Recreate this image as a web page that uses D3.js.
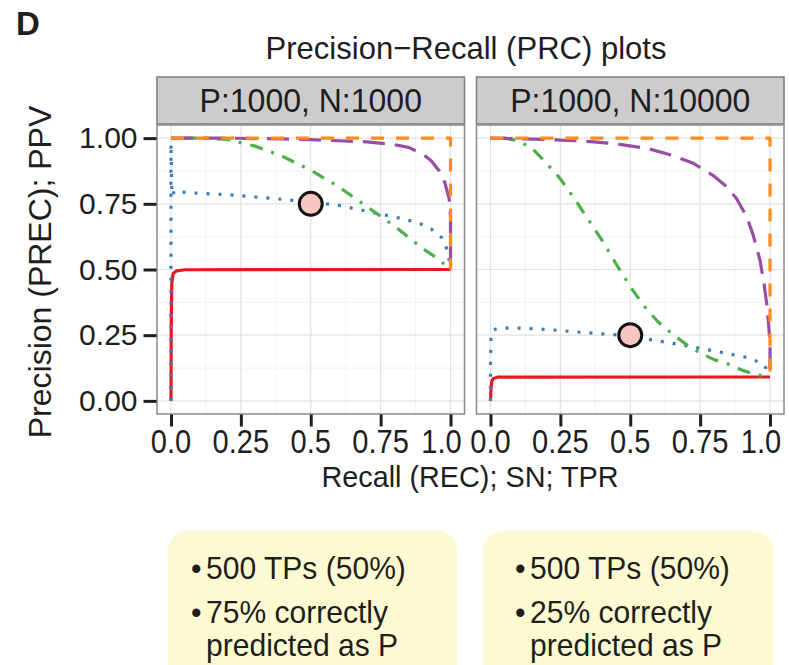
<!DOCTYPE html>
<html>
<head>
<meta charset="utf-8">
<script src="https://cdn.jsdelivr.net/npm/d3@7"></script>
<style>
  html, body { margin: 0; padding: 0; background: #fff; }
  svg { display: block; }
  text { font-family: "Liberation Sans", Arial, Helvetica, sans-serif; fill: #1e1e1e; }
</style>
</head>
<body>
<svg id="chart" width="789" height="665"></svg>
<script>
// ---- data -------------------------------------------------------------
const panelLabels = ["P:1000, N:1000", "P:1000, N:10000"];
const xTicks = [0, 0.25, 0.5, 0.75, 1];
const xTickLabels = ["0.0", "0.25", "0.5", "0.75", "1.0"];
const yTicks = [0, 0.25, 0.5, 0.75, 1];
const yTickLabels = ["0.00", "0.25", "0.50", "0.75", "1.00"];

// [recall, precision] pairs, balanced panel (P:1000, N:1000)
const random1 = [[0,0],[0.001,0.30],[0.003,0.45],[0.008,0.485],[0.02,0.495],[0.05,0.499],[1,0.5]];
const poor1 = [[0,0],[0,0.98],[0.003,0.80],[0.006,0.78],[0.012,0.80],[0.03,0.795],[0.1,0.79],[0.2,0.785],[0.3,0.776],[0.4,0.767],[0.5,0.757],[0.6,0.744],[0.7,0.722],[0.8,0.70],[0.88,0.68],[0.93,0.655],[0.97,0.62],[0.99,0.57],[1,0.5]];
const good1 = [[0,1],[0.1,1],[0.2,0.995],[0.3,0.97],[0.4,0.93],[0.5,0.878],[0.6,0.815],[0.7,0.74],[0.8,0.665],[0.9,0.58],[0.95,0.545],[1,0.5]];
const excellent1 = [[0,1],[0.2,1],[0.4,0.997],[0.5,0.994],[0.6,0.99],[0.7,0.986],[0.8,0.975],[0.85,0.965],[0.9,0.94],[0.93,0.915],[0.96,0.875],[0.98,0.83],[0.995,0.77],[1,0.70],[1,0.5]];
const perfect1 = [[0,1],[1,1],[1,0.5]];

// [recall, precision] pairs, imbalanced panel (P:1000, N:10000)
const random2 = [[0,0],[0.002,0.05],[0.005,0.075],[0.01,0.085],[0.025,0.09],[1,0.0909]];
const poor2 = [[0,0],[0,0.13],[0.002,0.25],[0.01,0.27],[0.03,0.277],[0.1,0.277],[0.2,0.272],[0.3,0.263],[0.4,0.255],[0.5,0.247],[0.6,0.228],[0.7,0.21],[0.78,0.194],[0.85,0.18],[0.93,0.162],[0.98,0.137],[1,0.0909]];
const good2 = [[0,1],[0.05,1],[0.1,0.99],[0.15,0.96],[0.2,0.905],[0.25,0.845],[0.3,0.77],[0.35,0.69],[0.4,0.61],[0.45,0.52],[0.5,0.435],[0.55,0.36],[0.6,0.30],[0.65,0.255],[0.7,0.215],[0.75,0.182],[0.8,0.157],[0.85,0.14],[0.9,0.117],[0.95,0.1],[1,0.0909]];
const excellent2 = [[0,1],[0.1,0.998],[0.2,0.995],[0.3,0.99],[0.37,0.986],[0.45,0.978],[0.56,0.961],[0.65,0.935],[0.726,0.904],[0.8,0.855],[0.845,0.815],[0.88,0.77],[0.917,0.70],[0.94,0.63],[0.964,0.536],[0.978,0.45],[0.988,0.371],[0.995,0.29],[1,0.22],[1,0.0909]];
const perfect2 = [[0,1],[1,1],[1,0.0909]];

// highlighted operating point per panel
const pointRecall = [0.5, 0.5];
const pointPrecision = [0.75, 0.25];

// notes under each panel
const notes1 = ["500 TPs (50%)", "75% correctly", "predicted as P"];
const notes2 = ["500 TPs (50%)", "25% correctly", "predicted as P"];

// ---- styling ----------------------------------------------------------
const curveStyles = [
  { key: "random",    color: "#e41a1c", dash: null },
  { key: "poor",      color: "#377eb8", dash: "3,9" },
  { key: "good",      color: "#4daf4a", dash: "3,9,13,9" },
  { key: "excellent", color: "#984ea3", dash: "22,10" },
  { key: "perfect",   color: "#ff8c1a", dash: "13,12" }
];
const panelCurves = [
  { random: random1, poor: poor1, good: good1, excellent: excellent1, perfect: perfect1 },
  { random: random2, poor: poor2, good: good2, excellent: excellent2, perfect: perfect2 }
];
const panelNotes = [notes1, notes2];

const svg = d3.select("#chart");
const panelLefts = [157, 476.5];
const panelW = 307.5;
const panelTop = 125, panelBottom = 414;
const stripTop = 77, stripBottom = 124;

const y = d3.scaleLinear().domain([-0.05, 1.05]).range([panelBottom, panelTop]);

// text placed at (x, y), squeezed horizontally by sx (narrow Helvetica look)
function label(parent, x, yPos, str, size, sx, anchor) {
  return parent.append("text")
    .attr("transform", `translate(${x},${yPos}) scale(${sx},1)`)
    .attr("text-anchor", anchor || "start")
    .style("font-size", size + "px")
    .text(str);
}

// panel letter and title
svg.append("text").attr("x", 16).attr("y", 35)
  .style("font-size", "33px").style("font-weight", "bold").text("D");
label(svg, 466, 59, "Precision\u2212Recall (PRC) plots", 32, 0.97, "middle");

panelLabels.forEach((lab, i) => {
  const left = panelLefts[i];
  const x = d3.scaleLinear().domain([-0.05, 1.05]).range([left, left + panelW]);
  const g = svg.append("g");

  // strip
  g.append("rect").attr("x", left).attr("y", stripTop)
    .attr("width", panelW).attr("height", stripBottom - stripTop)
    .attr("fill", "#cccccc").attr("stroke", "#7c7c7c").attr("stroke-width", 1.5);
  label(g, left + panelW / 2, 112, lab, 33, 0.97, "middle");

  // panel background and grid
  g.append("rect").attr("x", left).attr("y", panelTop)
    .attr("width", panelW).attr("height", panelBottom - panelTop).attr("fill", "#fff");
  const minor = [0.125, 0.375, 0.625, 0.875];
  g.selectAll(".vminor").data(minor).enter().append("line")
    .attr("x1", d => x(d)).attr("x2", d => x(d)).attr("y1", panelTop).attr("y2", panelBottom)
    .attr("stroke", "#f2f2f2").attr("stroke-width", 1);
  g.selectAll(".hminor").data(minor).enter().append("line")
    .attr("y1", d => y(d)).attr("y2", d => y(d)).attr("x1", left).attr("x2", left + panelW)
    .attr("stroke", "#f2f2f2").attr("stroke-width", 1);
  g.selectAll(".vmajor").data(xTicks).enter().append("line")
    .attr("x1", d => x(d)).attr("x2", d => x(d)).attr("y1", panelTop).attr("y2", panelBottom)
    .attr("stroke", "#e2e2e2").attr("stroke-width", 1.2);
  g.selectAll(".hmajor").data(yTicks).enter().append("line")
    .attr("y1", d => y(d)).attr("y2", d => y(d)).attr("x1", left).attr("x2", left + panelW)
    .attr("stroke", "#e2e2e2").attr("stroke-width", 1.2);

  // curves
  const line = d3.line().x(d => x(d[0])).y(d => y(d[1]));
  curveStyles.forEach(s => {
    g.append("path").datum(panelCurves[i][s.key])
      .attr("d", line).attr("fill", "none")
      .attr("stroke", s.color).attr("stroke-width", 3.2)
      .attr("stroke-dasharray", s.dash)
      .attr("stroke-linejoin", "round");
  });

  // operating point
  g.append("circle").attr("cx", x(pointRecall[i])).attr("cy", y(pointPrecision[i])).attr("r", 11.5)
    .attr("fill", "#f7c6c0").attr("stroke", "#111").attr("stroke-width", 3);

  // panel border
  g.append("rect").attr("x", left).attr("y", panelTop)
    .attr("width", panelW).attr("height", panelBottom - panelTop)
    .attr("fill", "none").attr("stroke", "#8a8a8a").attr("stroke-width", 1.5);

  // x axis: ticks from d3, labels drawn narrow so neighbouring panels do not collide
  const xAxis = d3.axisBottom(x).tickValues(xTicks).tickFormat("").tickSize(12);
  const ax = g.append("g").attr("transform", `translate(0,${panelBottom + 0.5})`).call(xAxis);
  ax.select(".domain").remove();
  ax.selectAll(".tick line").attr("stroke", "#1e1e1e").attr("stroke-width", 3);
  ax.selectAll(".tick text").remove();
  xTicks.forEach((t, k) => {
    const nudge = k === xTicks.length - 1 ? -9 : 0;
    label(g, x(t) + nudge, 453, xTickLabels[k], 33, 0.88, "middle");
  });

  // notes box
  const bx = [168, 483][i], bw = [289, 290][i];
  g.append("rect").attr("x", bx).attr("y", 531).attr("width", bw).attr("height", 160)
    .attr("rx", 20).attr("ry", 20).attr("fill", "#fdfad2");
  const notes = panelNotes[i];
  const bulletX = bx + [23, 32][i], textX = bulletX + 15;
  [579, 623].forEach(by => label(g, bulletX, by, "\u2022", 31, 0.97, "start"));
  [579, 623, 656].forEach((by, k) => label(g, textX, by, notes[k], 31, 0.97, "start"));
});

// y axis on the left panel
const yAxis = d3.axisLeft(y).tickValues(yTicks)
  .tickFormat((d, k) => yTickLabels[k]).tickSize(13).tickPadding(6);
const ay = svg.append("g").attr("transform", `translate(${panelLefts[0] - 0.5},0)`).call(yAxis);
ay.select(".domain").remove();
ay.selectAll(".tick line").attr("stroke", "#1e1e1e").attr("stroke-width", 3);
ay.selectAll(".tick text").style("font-size", "30px").attr("fill", "#1e1e1e")
  .style("font-family", "'Liberation Sans', Arial, sans-serif");

// axis titles
label(svg, 470, 487, "Recall (REC); SN; TPR", 30, 0.96, "middle");
svg.append("text").attr("transform", "translate(51,272) rotate(-90)").attr("text-anchor", "middle")
  .style("font-size", "32px").text("Precision (PREC); PPV");
</script>
</body>
</html>
